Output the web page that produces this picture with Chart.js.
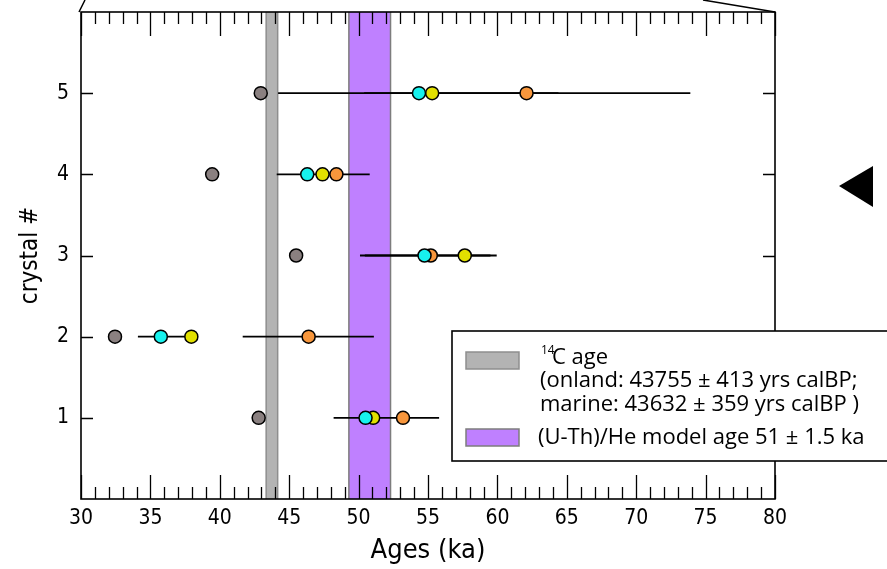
<!DOCTYPE html>
<html>
<head>
<meta charset="utf-8">
<script src="https://cdn.jsdelivr.net/npm/chart.js@4.4.0/dist/chart.umd.min.js"></script>
<style>
  html, body { margin: 0; padding: 0; background: #fff; }
  #wrap { width: 887px; height: 569px; }
</style>
</head>
<body>
<div id="wrap"><canvas id="c" width="887" height="569"></canvas></div>
<script>
// crystal numbers and the ages read for each method (ka)
const crystals = [1, 2, 3, 4, 5];
const greyAges = [42.8, 32.45, 45.5, 39.45, 42.95];
const cyanAges = [50.5, 35.75, 54.75, 46.3, 54.35];
const yellowAges = [51.05, 37.95, 57.65, 47.4, 55.3];
const orangeAges = [53.2, 46.4, 55.2, 48.4, 62.1];

// error bars: crystal, low, high (ka)
const barCrystal = [1, 2, 2, 3, 3, 4, 5, 5];
const barLow = [48.2, 34.1, 41.65, 50.1, 50.45, 44.1, 44.2, 50.4];
const barHigh = [55.8, 37.9, 51.1, 59.95, 59.5, 50.8, 73.9, 64.4];

// reference age bands (ka)
const c14Band = [43.34, 44.17];
const uthBand = [49.3, 52.3];

const xTicks = [30, 35, 40, 45, 50, 55, 60, 65, 70, 75, 80];
const legendLines = [
    '(onland: 43755 \u00b1 413 yrs calBP;',
    'marine: 43632 \u00b1 359 yrs calBP )',
    '(U-Th)/He model age 51 \u00b1 1.5 ka'
];

const pts = (ages) => ages.map((a, i) => ({ x: a, y: crystals[i] }));

const datasets = [];
barCrystal.forEach((c, i) => {
    datasets.push({
        type: 'line',
        data: [{ x: barLow[i], y: c }, { x: barHigh[i], y: c }],
        borderColor: '#000',
        borderWidth: 1.8,
        pointRadius: 0,
        fill: false,
        order: 10
    });
});

function markers(ages, color, order) {
    return {
        data: pts(ages),
        backgroundColor: color,
        borderColor: '#000',
        borderWidth: 1.5,
        pointRadius: 6.5,
        order: order
    };
}
datasets.push(markers(greyAges, '#8a8080', 4));
datasets.push(markers(orangeAges, '#f7963c', 3));
datasets.push(markers(yellowAges, '#e2e000', 2));
datasets.push(markers(cyanAges, '#17f2ee', 1));

const frameAndLegend = {
    id: 'frameAndLegend',
    beforeDatasetsDraw(chart) {
        const { ctx, chartArea: a, scales: { x } } = chart;
        ctx.save();
        const band = (r, fill, stroke) => {
            const x0 = x.getPixelForValue(r[0]);
            const x1 = x.getPixelForValue(r[1]);
            ctx.fillStyle = fill;
            ctx.fillRect(x0, a.top, x1 - x0, a.bottom - a.top);
            ctx.strokeStyle = stroke;
            ctx.lineWidth = 1.5;
            ctx.beginPath();
            ctx.moveTo(x0, a.top); ctx.lineTo(x0, a.bottom);
            ctx.moveTo(x1, a.top); ctx.lineTo(x1, a.bottom);
            ctx.stroke();
        };
        band(c14Band, '#b3b3b3', '#8e8e8e');
        band(uthBand, '#bf80ff', '#7d7d7d');
        ctx.restore();
    },
    afterDraw(chart) {
        const { ctx, chartArea: a, scales: { x, y } } = chart;
        ctx.save();
        ctx.strokeStyle = '#000';
        ctx.lineWidth = 1.6;
        ctx.strokeRect(a.left, a.top, a.right - a.left, a.bottom - a.top);

        // inward ticks, 1 ka minor and 5 ka major
        ctx.lineWidth = 1.3;
        ctx.beginPath();
        for (let v = 30; v <= 80; v++) {
            const px = Math.round(x.getPixelForValue(v)) + 0.5;
            const len = v % 5 === 0 ? 24 : 12;
            ctx.moveTo(px, a.bottom); ctx.lineTo(px, a.bottom - len);
            ctx.moveTo(px, a.top); ctx.lineTo(px, a.top + len);
        }
        crystals.forEach(c => {
            const py = Math.round(y.getPixelForValue(c)) + 0.5;
            ctx.moveTo(a.left, py); ctx.lineTo(a.left + 12, py);
            ctx.moveTo(a.right, py); ctx.lineTo(a.right - 12, py);
        });
        ctx.stroke();

        // connector lines from the figure above
        ctx.lineWidth = 1.5;
        ctx.beginPath();
        ctx.moveTo(a.left - 2, a.top); ctx.lineTo(a.left + 4, 0);
        ctx.moveTo(a.right, a.top); ctx.lineTo(a.right - 72, 0);
        ctx.stroke();

        // pointer triangle
        ctx.fillStyle = '#000';
        ctx.beginPath();
        ctx.moveTo(839, 186); ctx.lineTo(873, 166); ctx.lineTo(873, 207);
        ctx.closePath();
        ctx.fill();

        // legend box
        ctx.fillStyle = '#fff';
        ctx.fillRect(452, 331, 440, 130);
        ctx.lineWidth = 1.6;
        ctx.strokeRect(452, 331, 440, 130);

        ctx.fillStyle = '#b3b3b3';
        ctx.fillRect(466, 352, 53, 17);
        ctx.strokeStyle = '#8e8e8e';
        ctx.lineWidth = 1.5;
        ctx.strokeRect(466, 352, 53, 17);
        ctx.fillStyle = '#bf80ff';
        ctx.fillRect(466, 429, 53, 17);
        ctx.strokeStyle = '#7d7d7d';
        ctx.strokeRect(466, 429, 53, 17);

        // size the legend font so the long line spans the same width as the original
        ctx.font = '20px "Open Sans", sans-serif';
        const w = ctx.measureText(legendLines[0]).width;
        const fs = Math.min(22, 20 * 323 / w);
        ctx.fillStyle = '#000';
        ctx.textBaseline = 'alphabetic';
        ctx.textAlign = 'left';
        ctx.font = Math.round(fs * 0.55) + 'px "Open Sans", sans-serif';
        ctx.fillText('14', 541, 354);
        ctx.font = fs + 'px "Open Sans", sans-serif';
        ctx.fillText('C age', 552, 364);
        ctx.fillText(legendLines[0], 540, 387);
        ctx.fillText(legendLines[1], 540, 411);
        ctx.fillText(legendLines[2], 538, 444);
        ctx.restore();
    }
};

const narrow = '"Liberation Sans Narrow", "DejaVu Sans Condensed", sans-serif';
const tickFont = { family: narrow, size: 21 };
const zeroPad = s => { s.paddingTop = 0; s.paddingBottom = 0; s.paddingLeft = 0; s.paddingRight = 0; };

new Chart(document.getElementById('c').getContext('2d'), {
    type: 'scatter',
    data: { datasets: datasets },
    options: {
        responsive: false,
        devicePixelRatio: 1,
        animation: false,
        layout: { padding: { left: 0, right: 112, top: 12, bottom: 0 } },
        plugins: { legend: { display: false }, tooltip: { enabled: false } },
        scales: {
            x: {
                type: 'linear',
                min: 30,
                max: 80,
                afterBuildTicks: s => { s.ticks = xTicks.map(v => ({ value: v })); },
                afterFit: s => { s.height = 70; zeroPad(s); },
                ticks: { color: '#000', font: tickFont, padding: 7, maxRotation: 0 },
                grid: { display: false, drawTicks: false },
                border: { display: false },
                title: {
                    display: true,
                    text: 'Ages (ka)',
                    color: '#000',
                    font: { family: narrow, size: 27 },
                    padding: { top: 0, bottom: 2 }
                }
            },
            y: {
                type: 'linear',
                min: 0,
                max: 6,
                afterFit: s => { s.width = 81; zeroPad(s); },
                ticks: {
                    stepSize: 1,
                    color: '#000',
                    font: tickFont,
                    padding: 12,
                    callback: v => (v >= 1 && v <= 5 ? v : '')
                },
                grid: { display: false, drawTicks: false },
                border: { display: false },
                title: {
                    display: true,
                    text: 'crystal #',
                    color: '#000',
                    font: { family: narrow, size: 24 },
                    padding: { top: 16, bottom: 0 }
                }
            }
        }
    },
    plugins: [frameAndLegend]
});
</script>
</body>
</html>
